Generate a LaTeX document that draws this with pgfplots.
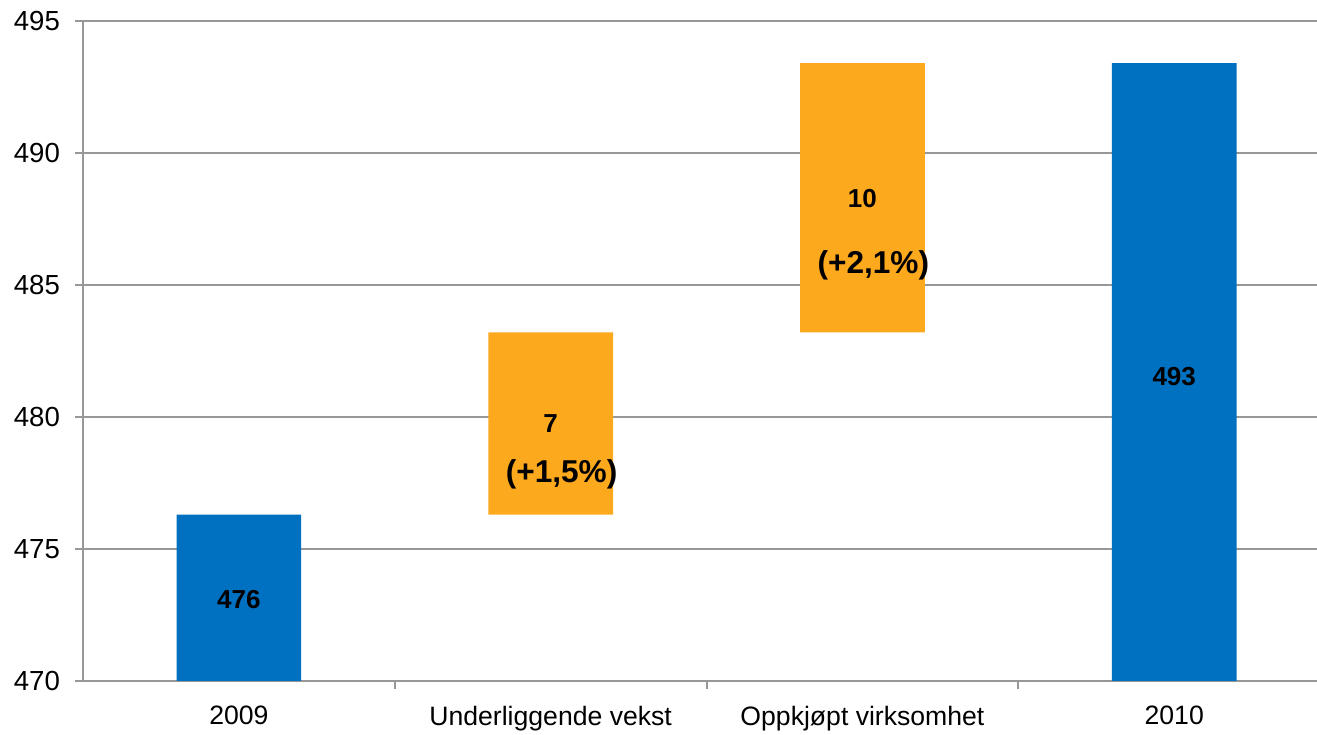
\documentclass[border=0pt]{standalone}
\usepackage{pgfplots}
\pgfplotsset{compat=1.18}
\usepackage{fontspec}
\setmainfont{Liberation Sans}
\definecolor{barblue}{HTML}{0070C0}
\definecolor{barorange}{HTML}{FDA91E}
\definecolor{gridgray}{HTML}{979797}

\begin{document}
\begin{tikzpicture}
	\begin{axis}[
		scale only axis,
		width=617pt, height=330pt,
		xmin=-0.5, xmax=3.458,
		ymin=470, ymax=495,
		ytick distance=5,
		ybar stacked,
		bar width=0.4,
		axis x line=bottom, axis y line=left,
		axis line style={-, gridgray, line width=1pt},
		ymajorgrids=true,
		grid style={gridgray, line width=1pt},
		tick align=outside,
		major tick length=4pt,
		tick style={gridgray, line width=1pt},
		xtick={0.5,1.5,2.5},
		xticklabels={},
		extra x ticks={0,1,2,3},
		extra x tick labels={2009, Underliggende vekst, Oppkjøpt virksomhet, 2010},
		extra x tick style={major tick length=0pt, grid=none},
		x tick label style={font=\fontsize{13.3}{15}\selectfont, yshift=-9pt},
		y tick label style={font=\fontsize{13.8}{15}\selectfont, xshift=-4pt},
		/pgf/number format/assume math mode=true,
	]
		% invisible base
		\addplot[draw=none, fill=none, forget plot]
			coordinates {(0,0) (1,476.3) (2,483.2) (3,0)};
		% totals
		\addplot[draw=none, fill=barblue]
			coordinates {(0,476.3) (1,0) (2,0) (3,493.4)};
		% changes
		\addplot[draw=none, fill=barorange]
			coordinates {(0,0) (1,6.9) (2,10.2) (3,0)};

		\coordinate (a) at (axis cs:0,473.07);
		\coordinate (b) at (axis cs:1,479.77);
		\coordinate (bp) at (axis cs:1.035,477.84);
		\coordinate (c) at (axis cs:2,488.26);
		\coordinate (cp) at (axis cs:2.035,485.76);
		\coordinate (d) at (axis cs:3,481.55);
	\end{axis}
	\node[font=\bfseries\fontsize{13}{15}\selectfont] at (a) {476};
	\node[font=\bfseries\fontsize{13}{15}\selectfont] at (b) {7};
	\node[font=\bfseries\fontsize{15.8}{17}\selectfont] at (bp) {(+1,5\%)};
	\node[font=\bfseries\fontsize{13}{15}\selectfont] at (c) {10};
	\node[font=\bfseries\fontsize{15.8}{17}\selectfont] at (cp) {(+2,1\%)};
	\node[font=\bfseries\fontsize{13}{15}\selectfont] at (d) {493};
	\pgfresetboundingbox
	\path[use as bounding box] ([shift={(-41.5pt,-26.5pt)}]current axis.south west) rectangle ([shift={(0pt,10.5pt)}]current axis.north east);
\end{tikzpicture}
\end{document}
